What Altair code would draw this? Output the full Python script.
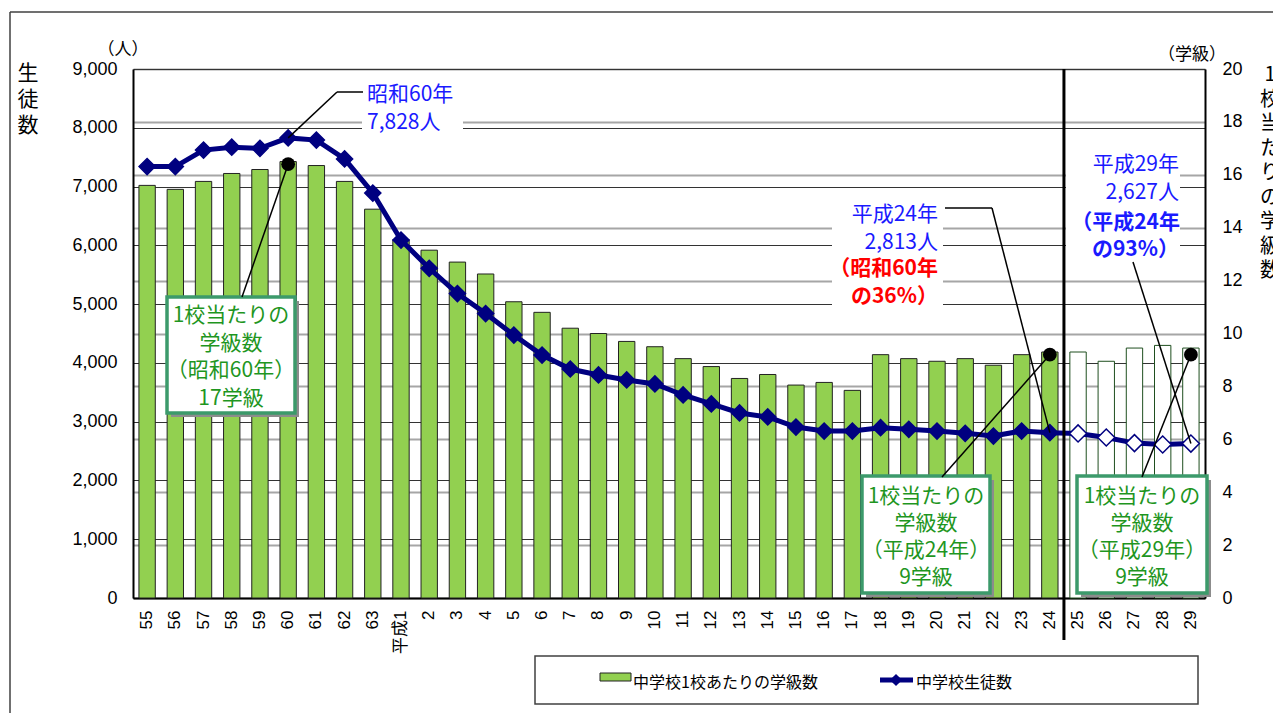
import altair as alt
import pandas as pd

# ---------------- data ----------------
cats = ["55", "56", "57", "58", "59", "60", "61", "62", "63", "平成1"] + [str(i) for i in range(2, 30)]
students = [7340, 7340, 7620, 7670, 7650, 7828, 7790, 7470, 6890,
            6090, 5610, 5180, 4840,
            4474, 4134, 3896, 3794, 3709, 3641, 3454, 3301, 3148, 3080, 2909, 2841, 2841,
            2898, 2869, 2841, 2801, 2756, 2841, 2813,
            2800, 2730, 2635, 2612, 2627]
classes = [15.6, 15.45, 15.75, 16.05, 16.2, 16.5, 16.35, 15.75, 14.7,
           13.55, 13.15, 12.7, 12.25,
           11.2, 10.8, 10.2, 10.0, 9.7, 9.5, 9.05, 8.75, 8.3, 8.45, 8.05, 8.15, 7.85,
           9.2, 9.05, 8.95, 9.05, 8.8, 9.2, 9.3,
           9.3, 8.95, 9.45, 9.55, 9.45]
projected = [False] * 33 + [True] * 5

students_ticks = list(range(0, 9001, 1000))
classes_ticks = list(range(0, 21, 2))

# annotation anchors (category, value)
dot_cats = ["60", "24", "29"]
dot_vals = [16.4, 9.2, 9.2]

legend_labels = ["中学校1校あたりの学級数", "中学校生徒数"]
left_title = "生\n徒\n数"
right_title = "1\n校\n当\nた\nり\nの\n学\n級\n数"

df = pd.DataFrame({"cat": cats, "students": students, "classes": classes, "proj": projected})

# ---------------- styling ----------------
JP = "Noto Sans CJK JP"
NUM = "Liberation Sans, Noto Sans CJK JP"
NAVY = "#000080"
GREEN = "#92D050"
BLUE = "#1a1aff"
RED = "#ff0000"
BOXTXT = "#1f961f"
BOXLINE = "#3C9A6B"

W, H = 1072, 529
OX, OY = 133, 69  # page position of plot origin


def px(x):
    return x - OX


def py(y):
    return y - OY


one = pd.DataFrame({"k": [0]})

xscale = alt.Scale(domain=cats, paddingInner=0.42, paddingOuter=0.21)
xaxis = alt.Axis(title=None, labelAngle=270, labelAlign="right", labelBaseline="middle",
                 ticks=False, domain=True, domainColor="black", domainWidth=2,
                 labelPadding=12, labelFontSize=17, labelFont=NUM, labelColor="black",
                 grid=False, labelOverlap=False)


def xenc():
    return alt.X("cat:N", scale=xscale, axis=xaxis, sort=None)


# ---------------- main marks ----------------
bars = alt.Chart(df).mark_bar(strokeWidth=1).encode(
    x=xenc(),
    y=alt.Y("classes:Q", scale=alt.Scale(domain=[0, 20], nice=False),
            axis=alt.Axis(orient="right", values=classes_ticks, title=None, grid=True,
                          gridColor="#a6a6a6", gridWidth=1.8, ticks=False, domain=True,
                          domainColor="black", domainWidth=2, labelPadding=17,
                          labelFontSize=18, labelFont=NUM, labelColor="black")),
    fill=alt.condition("datum.proj", alt.value("white"), alt.value(GREEN)),
    stroke=alt.condition("datum.proj", alt.value("#1f4f1f"), alt.value("#222222")),
)

line = alt.Chart(df).mark_line(color=NAVY, strokeWidth=5).encode(
    x=xenc(),
    y=alt.Y("students:Q", scale=alt.Scale(domain=[0, 9000], nice=False),
            axis=alt.Axis(orient="left", values=students_ticks, format=",d", title=None,
                          grid=True, gridColor="#333333", gridWidth=1.2, ticks=False,
                          domain=True, domainColor="black", domainWidth=2, labelPadding=16,
                          labelFontSize=18, labelFont=NUM, labelColor="black")),
)

points = alt.Chart(df).mark_point(shape="diamond", filled=True, opacity=1, strokeWidth=1.5).encode(
    x=xenc(),
    y=alt.Y("students:Q", scale=alt.Scale(domain=[0, 9000], nice=False), axis=None),
    fill=alt.condition("datum.proj", alt.value("white"), alt.value(NAVY)),
    stroke=alt.value(NAVY),
    size=alt.condition("datum.proj", alt.value(290), alt.value(260)),
)


# ---------------- helpers ----------------
def rule(x1, y1, x2, y2, color="black", w=1.5):
    return alt.Chart(one).mark_rule(color=color, strokeWidth=w).encode(
        x=alt.value(px(x1)), y=alt.value(py(y1)), x2=alt.value(px(x2)), y2=alt.value(py(y2)))


def rect(x1, y1, x2, y2, fill, stroke=None, sw=0):
    kw = {"fill": fill}
    if stroke:
        kw.update(stroke=stroke, strokeWidth=sw)
    return alt.Chart(one).mark_rect(**kw).encode(
        x=alt.value(px(x1)), y=alt.value(py(y1)), x2=alt.value(px(x2)), y2=alt.value(py(y2)))


def text(s, x, y, color="black", size=21, align="center", baseline="middle",
         weight="normal", font=JP, lh=None):
    kw = dict(align=align, baseline=baseline, fontSize=size, font=font, color=color,
              fontWeight=weight, lineBreak="\n")
    if lh:
        kw["lineHeight"] = lh
    return alt.Chart(one).mark_text(**kw).encode(
        x=alt.value(px(x)), y=alt.value(py(y)), text=alt.value(s))


def anchor_rule(cat, val, dom, x2, y2):
    d = pd.DataFrame({"cat": [cat], "v": [val]})
    return alt.Chart(d).mark_rule(color="black", strokeWidth=1.5).encode(
        x=xenc(), y=alt.Y("v:Q", scale=alt.Scale(domain=dom, nice=False), axis=None),
        x2=alt.value(px(x2)), y2=alt.value(py(y2)))


def box(x1, y1, x2, y2):
    return [rect(x1 + 4, y1 + 4, x2 + 4, y2 + 4, "#8c8c8c"),
            rect(x1, y1, x2, y2, "white", BOXLINE, 3.5)]


layers = [bars, line, points]

# white backgrounds behind floating labels
layers += [rect(362, 80, 463, 138, "white"),
           rect(832, 202, 943, 312, "white"),
           rect(1066, 150, 1180, 262, "white")]

# boxes
layers += box(167, 297, 295, 413)
layers += box(862, 476, 990, 593)
layers += box(1077, 476, 1207, 593)

# box texts (y = centre of first line)
layers += [text("1校当たりの\n学級数\n（昭和60年）\n17学級", 231, 316, BOXTXT, 21, lh=27.5),
           text("1校当たりの\n学級数\n（平成24年）\n9学級", 926, 497, BOXTXT, 21, lh=27),
           text("1校当たりの\n学級数\n（平成29年）\n9学級", 1142, 497, BOXTXT, 21, lh=27)]

# floating labels
layers += [text("昭和60年", 367, 95, BLUE, 21, align="left"),
           text("7,828人", 367, 123, BLUE, 21, align="left"),
           text("平成24年", 938, 215, BLUE, 21, align="right"),
           text("2,813人", 938, 243, BLUE, 21, align="right"),
           text("（昭和60年", 938, 269, RED, 21, align="right", weight="bold"),
           text("の36%）", 938, 297, RED, 21, align="right", weight="bold"),
           text("平成29年", 1179, 165, BLUE, 21, align="right"),
           text("2,627人", 1179, 193, BLUE, 21, align="right"),
           text("（平成24年", 1180, 223, BLUE, 21, align="right", weight="bold"),
           text("の93%）", 1179, 250, BLUE, 21, align="right", weight="bold")]

# leader lines
layers += [rule(363, 92, 337, 92),
           anchor_rule("60", 7828, [0, 9000], 337, 92),
           rule(945, 208, 992, 208),
           anchor_rule("24", 2813, [0, 9000], 992, 208),
           anchor_rule("29", 2627, [0, 9000], 1133, 262),
           anchor_rule("60", dot_vals[0], [0, 20], 242, 297),
           anchor_rule("24", dot_vals[1], [0, 20], 942, 477),
           anchor_rule("29", dot_vals[2], [0, 20], 1142, 477)]

# black dots
dots = alt.Chart(pd.DataFrame({"cat": dot_cats, "v": dot_vals})).mark_point(
    shape="circle", filled=True, color="black", opacity=1, size=190).encode(
    x=xenc(), y=alt.Y("v:Q", scale=alt.Scale(domain=[0, 20], nice=False), axis=None))
layers.append(dots)

# separator between actual and projected
layers.append(rule(OX + 33 * W / 38, OY, OX + 33 * W / 38, 640, "black", 3))

# legend
layers += [rect(535, 656, 1198, 704, "white", "#404040", 1.5),
           rect(600, 673, 631, 681, GREEN, "#222222", 1),
           text(legend_labels[0], 633, 683, "black", 16, align="left"),
           rule(880, 680, 913, 680, NAVY, 5),
           alt.Chart(one).mark_point(shape="diamond", filled=True, color=NAVY, opacity=1, size=150).encode(
               x=alt.value(px(896)), y=alt.value(py(680))),
           text(legend_labels[1], 916, 683, "black", 16, align="left")]

# axis titles and units (y = centre of first character)
layers += [text(left_title, 28, 74, "black", 21, lh=26),
           text(right_title, 1270, 75, "black", 20, lh=24.5),
           text("（人）", 123, 50, "black", 17),
           text("（学級）", 1192, 55, "black", 17)]

# outer frame
layers += [rule(10, 12, 10, 760, "#404040", 1.5),
           rule(10, 12, 1400, 12, "#404040", 1.5)]

chart = alt.layer(*layers).resolve_scale(y="independent").properties(
    width=W, height=H,
    autosize=alt.AutoSizeParams(type="none"),
    padding={"left": 125, "top": 61, "right": 68, "bottom": 115},
    background="white",
).configure_view(stroke=None)

chart.save("out.html", embed_options={"renderer": "svg", "actions": False})
